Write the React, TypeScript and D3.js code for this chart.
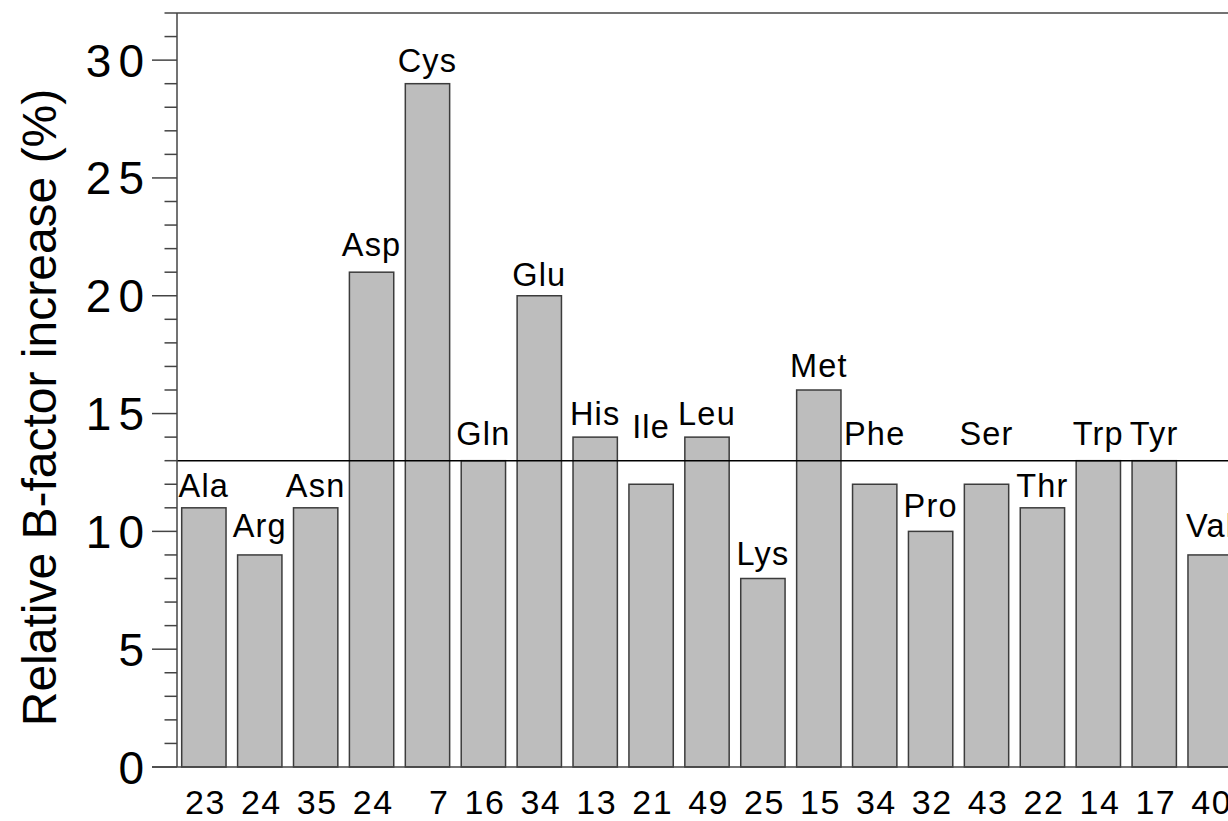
import React, { useEffect, useRef } from 'react';
import * as d3 from 'd3';

// residue names, counts under the axis, and the bar values (%)
const residues = ['Ala', 'Arg', 'Asn', 'Asp', 'Cys', 'Gln', 'Glu', 'His', 'Ile', 'Leu',
  'Lys', 'Met', 'Phe', 'Pro', 'Ser', 'Thr', 'Trp', 'Tyr', 'Val'];
const counts = ['23', '24', '35', '24', '7', '16', '34', '13', '21', '49',
  '25', '15', '34', '32', '43', '22', '14', '17', '40'];
const increase = [11, 9, 11, 21, 29, 13, 20, 14, 12, 14, 8, 16, 12, 10, 12, 11, 13, 13, 9];
// where each residue name sits (baseline, in % units)
const labelLevel = [11.48, 9.78, 11.48, 21.7, 29.5, 13.67, 20.42, 14.52, 13.98, 14.52,
  8.58, 16.57, 13.67, 10.63, 13.67, 11.48, 13.67, 13.67, 9.78];
const yTicks = [0, 5, 10, 15, 20, 25, 30];
const average = 13;

const W = 1228;
const H = 821;
const FONT = '"Liberation Sans", Arial, Helvetica, sans-serif';

export default function App() {
  const svgRef = useRef<SVGSVGElement>(null);

  useEffect(() => {
    const svg = d3.select(svgRef.current);
    svg.selectAll('*').remove();

    const axisX = 177;
    const y = d3.scaleLinear().domain([0, 32]).range([767, 13]);
    const x = d3.scaleBand<string>()
      .domain(residues)
      .range([axisX, 1237])
      .paddingInner(0.207)
      .paddingOuter(0.084);
    const mid = (d: string) => (x(d) as number) + x.bandwidth() / 2;

    const axisColor = '#444';

    // bars
    svg.append('g')
      .selectAll('rect')
      .data(increase)
      .enter()
      .append('rect')
      .attr('x', (d, i) => x(residues[i]) as number)
      .attr('y', d => y(d))
      .attr('width', x.bandwidth())
      .attr('height', d => y(0) - y(d))
      .attr('fill', '#bdbdbd')
      .attr('stroke', '#3c3c3c')
      .attr('stroke-width', 1.5);

    // average line
    svg.append('line')
      .attr('x1', axisX)
      .attr('x2', W)
      .attr('y1', y(average))
      .attr('y2', y(average))
      .attr('stroke', '#000')
      .attr('stroke-width', 1.5);

    // frame: left axis, top, bottom
    svg.append('line')
      .attr('x1', axisX).attr('x2', axisX)
      .attr('y1', y(32)).attr('y2', y(0))
      .attr('stroke', axisColor).attr('stroke-width', 1.5);
    svg.append('line')
      .attr('x1', axisX).attr('x2', W)
      .attr('y1', y(32)).attr('y2', y(32))
      .attr('stroke', axisColor).attr('stroke-width', 1.5);
    svg.append('line')
      .attr('x1', axisX - 25).attr('x2', W)
      .attr('y1', y(0)).attr('y2', y(0))
      .attr('stroke', axisColor).attr('stroke-width', 1.5);

    // minor + major ticks
    svg.append('g')
      .selectAll('line')
      .data(d3.range(0, 33))
      .enter()
      .append('line')
      .attr('x1', d => axisX - (d % 5 === 0 ? 25 : 12.5))
      .attr('x2', axisX)
      .attr('y1', d => y(d))
      .attr('y2', d => y(d))
      .attr('stroke', axisColor)
      .attr('stroke-width', 1.5);

    svg.append('g')
      .selectAll('text')
      .data(yTicks)
      .enter()
      .append('text')
      .attr('x', 151)
      .attr('y', d => y(d))
      .attr('dy', '0.36em')
      .attr('text-anchor', 'end')
      .attr('font-family', FONT)
      .attr('font-size', 46)
      .attr('letter-spacing', 7)
      .text(d => d);

    // residue names above bars
    svg.append('g')
      .selectAll('text')
      .data(residues)
      .enter()
      .append('text')
      .attr('x', d => mid(d))
      .attr('y', (d, i) => y(labelLevel[i]))
      .attr('text-anchor', 'middle')
      .attr('font-family', FONT)
      .attr('font-size', 32.5)
      .attr('letter-spacing', 1.2)
      .text(d => d);

    // counts under the axis, right-aligned like a 2-digit field
    svg.append('g')
      .selectAll('text')
      .data(counts)
      .enter()
      .append('text')
      .attr('x', (d, i) => mid(residues[i]) + 22)
      .attr('y', 814)
      .attr('text-anchor', 'end')
      .attr('font-family', FONT)
      .attr('font-size', 34)
      .attr('letter-spacing', 1.5)
      .text(d => d);

    // y title
    svg.append('text')
      .attr('transform', `translate(56, ${407.5}) rotate(-90)`)
      .attr('text-anchor', 'middle')
      .attr('font-family', FONT)
      .attr('font-size', 48)
      .text('Relative B-factor increase (%)');
  }, []);

  return (
    <svg
      ref={svgRef}
      width={W}
      height={H}
      style={{ position: 'absolute', left: 0, top: 0, background: '#fff' }}
    />
  );
}
